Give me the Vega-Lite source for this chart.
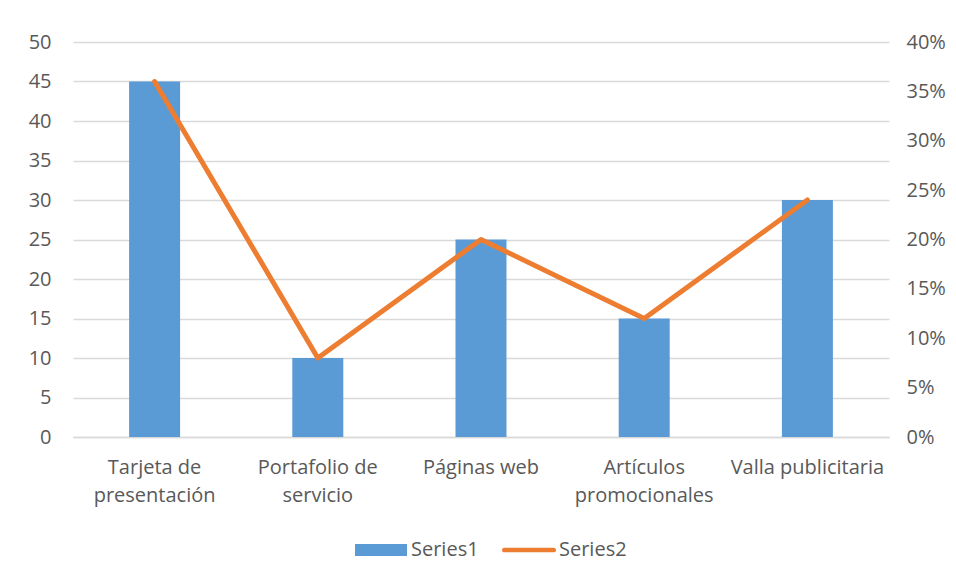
{
  "$schema": "https://vega.github.io/schema/vega-lite/v6.json",
  "width": 816,
  "height": 395,
  "autosize": "none",
  "padding": {"left": 73, "top": 42, "right": 67, "bottom": 146},
  "background": "white",
  "config": {
    "view": {"stroke": null},
    "font": "Open Sans",
    "axis": {"labelFont": "Open Sans", "labelFontSize": 20, "labelColor": "#595959", "ticks": false, "domain": false, "title": null},
    "legend": {"labelFont": "Open Sans", "labelFontSize": 20, "labelColor": "#595959"}
  },
  "data": {
    "values": [
      {"cat": "Tarjeta de presentación", "s1": 45, "s2": 0.36},
      {"cat": "Portafolio de servicio", "s1": 10, "s2": 0.08},
      {"cat": "Páginas web", "s1": 25, "s2": 0.20},
      {"cat": "Artículos promocionales", "s1": 15, "s2": 0.12},
      {"cat": "Valla publicitaria", "s1": 30, "s2": 0.24}
    ]
  },
  "encoding": {
    "x": {
      "field": "cat",
      "type": "nominal",
      "sort": null,
      "scale": {"paddingInner": 0, "paddingOuter": 0},
      "axis": {
        "labelAngle": 0,
        "domain": true,
        "domainColor": "#D9D9D9",
        "domainWidth": 1.5,
        "labelPadding": 20,
        "labelLineHeight": 28,
        "labelExpr": "datum.value == 'Tarjeta de presentación' ? ['Tarjeta de', 'presentación'] : datum.value == 'Portafolio de servicio' ? ['Portafolio de', 'servicio'] : datum.value == 'Artículos promocionales' ? ['Artículos', 'promocionales'] : datum.value"
      }
    }
  },
  "layer": [
    {
      "mark": {"type": "bar", "size": 51},
      "encoding": {
        "y": {
          "field": "s1",
          "type": "quantitative",
          "scale": {"domain": [0, 50], "nice": false},
          "axis": {"values": [0, 5, 10, 15, 20, 25, 30, 35, 40, 45, 50], "grid": true, "gridColor": "#D9D9D9", "gridWidth": 1.5, "labelPadding": 22}
        },
        "color": {
          "datum": "Series1",
          "scale": {"domain": ["Series1", "Series2"], "range": ["#5B9BD5", "#ED7D31"]},
          "legend": {
            "title": null,
            "orient": "none",
            "direction": "horizontal",
            "legendX": 282,
            "legendY": 482,
            "symbolSize": 2704,
            "symbolStrokeWidth": 0,
            "symbolOpacity": 1,
            "labelOffset": 4,
            "columnPadding": 22,
            "encode": {
              "symbols": {
                "update": {
                  "shape": {"signal": "datum.value == 'Series1' ? 'M-1,-0.23H1V0.23H-1Z' : 'M-0.95,-0.09H0.95A0.09,0.09 0 0 1 0.95,0.09H-0.95A0.09,0.09 0 0 1 -0.95,-0.09Z'"}
                }
              }
            }
          }
        }
      }
    },
    {
      "mark": {"type": "line", "strokeWidth": 5, "strokeCap": "round", "strokeJoin": "round"},
      "encoding": {
        "y": {
          "field": "s2",
          "type": "quantitative",
          "scale": {"domain": [0, 0.4], "nice": false},
          "axis": {"orient": "right", "format": ".0%", "values": [0, 0.05, 0.1, 0.15, 0.2, 0.25, 0.3, 0.35, 0.4], "grid": false, "labelPadding": 17}
        },
        "color": {"datum": "Series2"}
      }
    }
  ],
  "resolve": {"scale": {"y": "independent"}}
}
